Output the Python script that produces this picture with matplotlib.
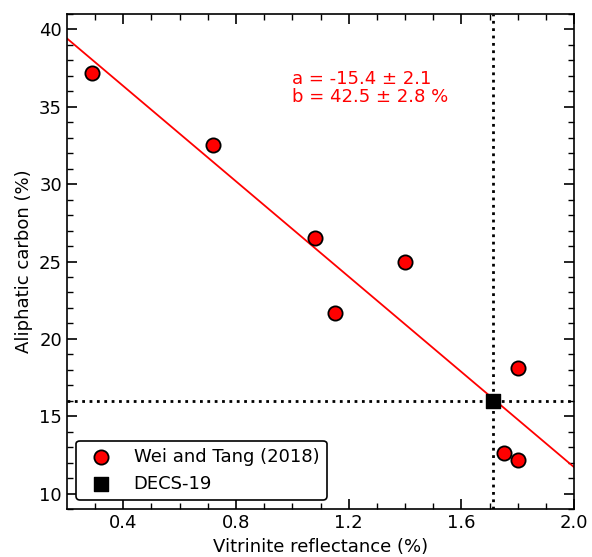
import numpy as np
from matplotlib import pyplot as plt

# Wei and Tang (2018)
ro = [0.29, 0.72, 1.08, 1.15, 1.40, 1.80, 1.75, 1.80]
fal = [37.2, 32.5, 26.5, 21.7, 25.0, 18.1, 12.6, 12.2]

# DECS-19
decs_ro = [1.71]
decs_fal = [16.0]

slope, slope_err = -15.4, 2.1
icept, icept_err = 42.5, 2.8


if __name__ == '__main__':
    fig, ax = plt.subplots(figsize=(5.92, 5.57), dpi=100)
    fig.subplots_adjust(left=0.113, right=0.97, top=0.975, bottom=0.086)

    xl = np.linspace(0.2, 2.0, 50)
    ax.plot(xl, slope * xl + icept, color='red', lw=1.3, zorder=2)
    ax.axvline(decs_ro[0], color='black', ls=':', lw=2, zorder=1)
    ax.axhline(decs_fal[0], color='black', ls=':', lw=2, zorder=1)

    ax.scatter(ro, fal, s=105, c='red', edgecolors='black', linewidths=1.3,
               label='Wei and Tang (2018)', zorder=3)
    ax.scatter(decs_ro, decs_fal, s=95, c='black', marker='s',
               label='DECS-19', zorder=4)

    ax.text(1.0, 37.35, f'a = {slope} ± {slope_err}\nb = {icept} ± {icept_err} %',
            color='red', fontsize=13, linespacing=1.0, va='top')

    ax.set_xlim(0.2, 2.0)
    ax.set_ylim(9, 41)
    ax.set_xticks([0.4, 0.8, 1.2, 1.6, 2.0])
    ax.set_xticks(np.arange(0.3, 2.0, 0.1), minor=True)
    ax.set_yticks([10, 15, 20, 25, 30, 35, 40])
    ax.set_yticks(np.arange(9, 42, 1), minor=True)
    ax.tick_params(which='both', direction='in', top=True, right=True, labelsize=13)
    ax.tick_params(which='major', length=7, width=1.2)
    ax.tick_params(which='minor', length=4, width=1)
    for s in ax.spines.values():
        s.set_linewidth(1.2)

    ax.set_xlabel('Vitrinite reflectance (%)', fontsize=13)
    ax.set_ylabel('Aliphatic carbon (%)', fontsize=13)
    leg = ax.legend(loc='lower left', fontsize=13, fancybox=True,
                    framealpha=1, edgecolor='black')
    leg.get_frame().set_linewidth(1.2)

    plt.savefig('out.png')
